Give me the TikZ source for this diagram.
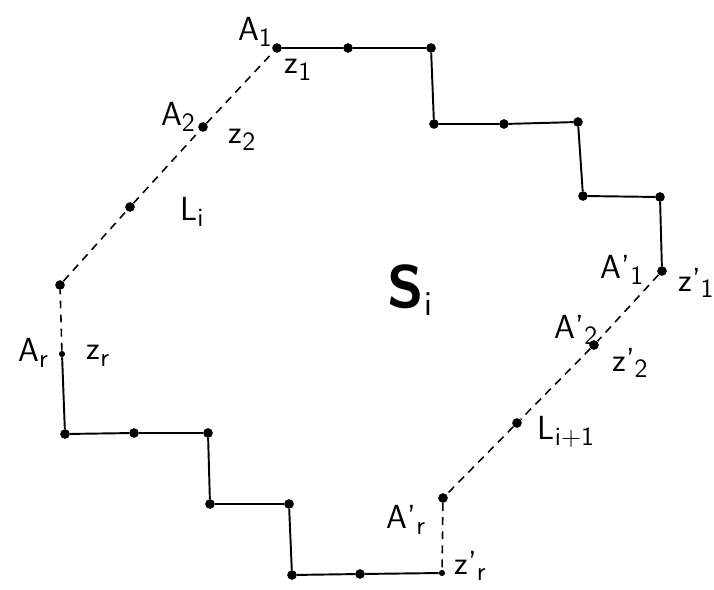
\documentclass[tikz,border=0pt]{standalone}
\usepackage{amsmath}
\usepackage{tikz}
\usetikzlibrary{positioning}
\tikzset{
  % punti del bordo
  pt/.style={circle,fill=black,inner sep=0,minimum size=5.5pt},
  % lati
  edge solid/.style={line width=1.1pt},
  edge dash/.style={line width=0.9pt,dash pattern=on 4.5pt off 3.5pt},
  % etichette
  lab/.style={inner sep=1pt,font=\sffamily\fontsize{19}{21}\selectfont},
  lab big/.style={inner sep=1pt,font=\sffamily\bfseries\fontsize{34}{36}\selectfont}
}
\newcommand{\sub}[2]{#1\raisebox{-0.45ex}{\fontsize{15}{17}\selectfont #2}}
\newcommand{\subbig}[2]{#1\raisebox{-0.3ex}{\fontsize{20}{22}\selectfont\mdseries #2}}

\begin{document}
\begin{tikzpicture}[x=0.02cm,y=-0.02cm]
    \useasboundingbox (0,0) rectangle (714,589);
    % scala superiore
    \node[pt] (a1) at (277,48) {};
    \node[pt] (t2) at (348,48) {};
    \node[pt] (t3) at (431,48) {};
    \node[pt] (t4) at (434,124) {};
    \node[pt] (t5) at (504,124) {};
    \node[pt] (t6) at (578,122) {};
    \node[pt] (t7) at (583,196) {};
    \node[pt] (t8) at (660,197) {};
    \node[pt] (b1) at (662,271) {};
    % lato L_{i+1}
    \node[pt] (b2) at (594,345) {};
    \node[pt] (lb) at (517,423) {};
    \node[pt] (b3) at (443,498) {};
    \node[pt,minimum size=3.5pt] (br) at (442,573) {};
    % scala inferiore
    \node[pt] (m1) at (360,574) {};
    \node[pt] (m2) at (292,575) {};
    \node[pt] (m3) at (289,504) {};
    \node[pt] (m4) at (210,504) {};
    \node[pt] (m5) at (208,433) {};
    \node[pt] (m6) at (134,433) {};
    \node[pt] (m7) at (65,434) {};
    \node[pt,minimum size=3.5pt] (ar) at (62,354) {};
    % lato L_i
    \node[pt] (c1) at (60,285) {};
    \node[pt] (li) at (130,207) {};
    \node[pt] (a2) at (203,127) {};

    \draw[edge solid] (a1)--(t2)--(t3)--(t4)--(t5)--(t6)--(t7)--(t8)--(b1);
    \draw[edge dash] (b1)--(b2)--(lb)--(b3)--(br);
    \draw[edge solid] (br)--(m1)--(m2)--(m3)--(m4)--(m5)--(m6)--(m7)--(ar);
    \draw[edge dash] (ar)--(c1)--(li)--(a2)--(a1);

    % etichette
    \node[lab] at (255,32) {\sub{A}{1}};
    \node[lab] at (298,70) {\sub{z}{1}};
    \node[lab] at (178,117) {\sub{A}{2}};
    \node[lab] at (242,140) {\sub{z}{2}};
    \node[lab] at (192,212) {\sub{L}{i}};
    \node[lab big] at (410,290) {\subbig{S}{i}};
    \node[lab] at (622,270) {\sub{A'}{1}};
    \node[lab] at (696,283) {\sub{z'}{1}};
    \node[lab] at (576,330) {\sub{A'}{2}};
    \node[lab] at (630,363) {\sub{z'}{2}};
    \node[lab] at (566,432) {\sub{L}{i+1}};
    \node[lab] at (406,520) {\sub{A'}{r}};
    \node[lab] at (470,566) {\sub{z'}{r}};
    \node[lab] at (33,353) {\sub{A}{r}};
    \node[lab] at (98,356) {\sub{z}{r}};
\end{tikzpicture}
\end{document}
